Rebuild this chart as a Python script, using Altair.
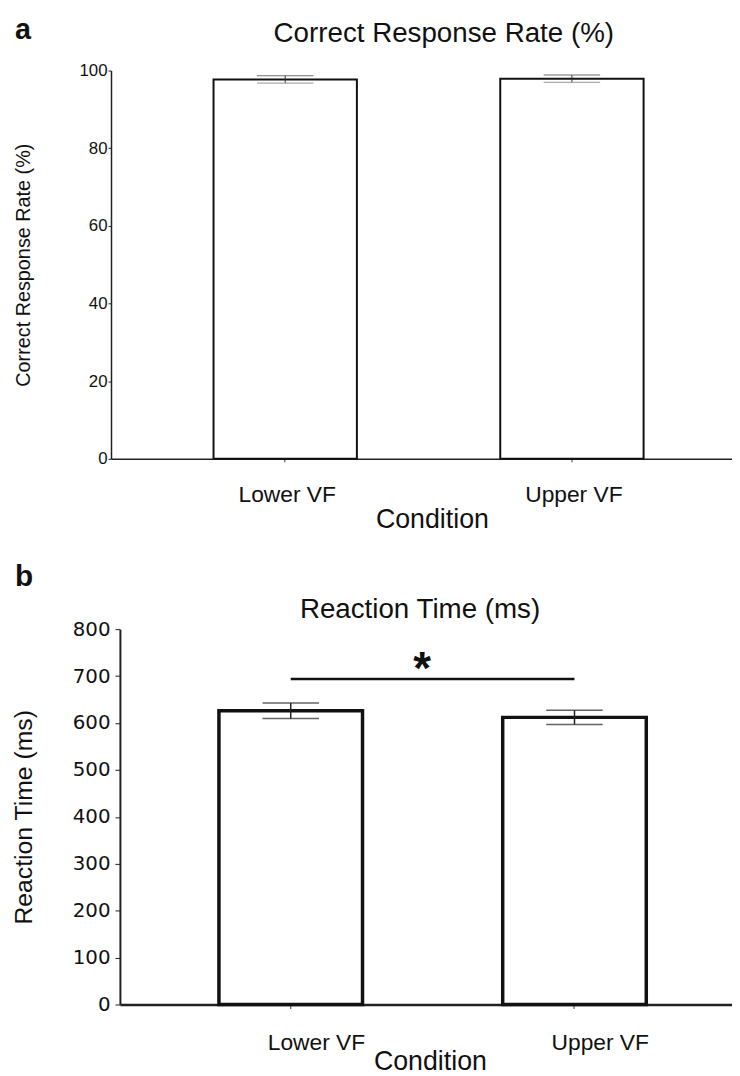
import altair as alt
import pandas as pd

# ---- data ----
conditions = ["Lower VF", "Upper VF"]
acc_mean = [97.7, 97.9]
acc_err = [0.95, 0.95]
rt_mean = [626, 612]
rt_err = [16.5, 15]
sig_pair = ["Lower VF", "Upper VF"]
sig_level = 694
sig_text = "*"

acc_ticks = [0, 20, 40, 60, 80, 100]
rt_ticks = [0, 100, 200, 300, 400, 500, 600, 700, 800]

df_a = pd.DataFrame({
    "Condition": conditions,
    "mean": acc_mean,
    "lo": [m - e for m, e in zip(acc_mean, acc_err)],
    "hi": [m + e for m, e in zip(acc_mean, acc_err)],
})
df_b = pd.DataFrame({
    "Condition": conditions,
    "mean": rt_mean,
    "lo": [m - e for m, e in zip(rt_mean, rt_err)],
    "hi": [m + e for m, e in zip(rt_mean, rt_err)],
})
df_sig = pd.DataFrame({"x1": [sig_pair[0]], "x2": [sig_pair[1]], "y": [sig_level], "t": [sig_text]})

SANS = "Liberation Sans"
W = 627
HA, HB = 392, 379
B_SHIFT = 9  # panel b's y axis sits a little to the right


def label_layer(text, x, y, size, weight="normal", font=SANS):
    return alt.Chart(pd.DataFrame({"t": [text]})).mark_text(
        font=font, fontSize=size, fontWeight=weight, align="left" if weight == "bold" else "center",
        baseline="alphabetic", color="#111"
    ).encode(text="t:N", x=alt.value(x), y=alt.value(y))


# ---------- panel a ----------
xa_scale = alt.Scale(paddingInner=0.5, paddingOuter=0.333, align=0.537)
xa_axis = alt.Axis(
    title="Condition", titleFont=SANS, titleFontSize=27, titleFontWeight="normal",
    titleColor="#111", titleBaseline="alphabetic", titleY=69, titleX=324,
    labelFont=SANS, labelFontSize=23, labelColor="#111", labelAngle=0,
    labelBaseline="alphabetic", labelPadding=40, labelOffset=2, tickSize=3, tickColor="#333",
    domainColor="#222", domainWidth=1.5, grid=False,
)
ya_scale = alt.Scale(domain=[0, 100], nice=False)
ya_axis = alt.Axis(
    title="Correct Response Rate (%)", titleFont=SANS, titleFontSize=20,
    titleFontWeight="normal", titleColor="#111", titleX=-88, titleY=HA / 2,
    titleBaseline="middle", titleAngle=270,
    values=acc_ticks, labelFont=SANS, labelFontSize=17, labelColor="#111",
    labelPadding=1, tickSize=3, tickColor="#222", domainColor="#222",
    domainWidth=1.5, grid=False,
)
XA = alt.X("Condition:N", scale=xa_scale, axis=xa_axis, sort=conditions)

base_a = alt.Chart(df_a)
bars_a = base_a.mark_bar(fill="white", stroke="#111", strokeWidth=2).encode(
    x=XA, y=alt.Y("mean:Q", scale=ya_scale, axis=ya_axis),
)
err_a = base_a.mark_rule(color="#333", strokeWidth=1).encode(
    x=XA, y=alt.Y("lo:Q", scale=ya_scale, axis=ya_axis), y2="hi:Q",
)
caphi_a = base_a.mark_tick(color="#333", size=57, thickness=1, orient="horizontal").encode(
    x=XA, y=alt.Y("hi:Q", scale=ya_scale, axis=ya_axis),
)
caplo_a = base_a.mark_tick(color="#888", size=57, thickness=1.2, orient="horizontal").encode(
    x=XA, y=alt.Y("lo:Q", scale=ya_scale, axis=ya_axis),
)
lab_a = label_layer("a", -97, -32, 29, "bold")
title_a = label_layer("Correct Response Rate (%)", 336, -29, 28)

panel_a = alt.layer(bars_a, err_a, caphi_a, caplo_a, lab_a, title_a).properties(
    width=W, height=HA,
)

# ---------- panel b ----------
xb_scale = alt.Scale(range=[B_SHIFT, W], paddingInner=0.494, paddingOuter=0.3255, align=0.536)
xb_axis = alt.Axis(
    title="Condition", titleFont=SANS, titleFontSize=27, titleFontWeight="normal",
    titleColor="#111", titleBaseline="alphabetic", titleY=66, titleX=322,
    labelFont=SANS, labelFontSize=23, labelColor="#111", labelAngle=0,
    labelBaseline="alphabetic", labelPadding=41, labelOffset=26, tickSize=4, tickColor="#333",
    domainColor="#222", domainWidth=2.5, grid=False,
)
yb_scale = alt.Scale(domain=[0, 800], nice=False)
yb_axis = alt.Axis(
    title="Reaction Time (ms)", titleFont=SANS, titleFontSize=25,
    titleFontWeight="normal", titleColor="#111", titleX=-88 - B_SHIFT, titleY=HB / 2,
    titleBaseline="middle", titleAngle=270, offset=-B_SHIFT,
    values=rt_ticks, labelFont="DejaVu Sans", labelFontSize=20, labelColor="#111",
    labelPadding=5, tickSize=5, tickColor="#222", domainColor="#222",
    domainWidth=2, grid=False,
)
XB = alt.X("Condition:N", scale=xb_scale, axis=xb_axis, sort=conditions)

base_b = alt.Chart(df_b)
bars_b = base_b.mark_bar(fill="white", stroke="#111", strokeWidth=3.5).encode(
    x=XB, y=alt.Y("mean:Q", scale=yb_scale, axis=yb_axis),
)
err_b = base_b.mark_rule(color="#222", strokeWidth=1.5).encode(
    x=XB, y=alt.Y("lo:Q", scale=yb_scale, axis=yb_axis), y2="hi:Q",
)
caphi_b = base_b.mark_tick(color="#222", size=57, thickness=1.5, orient="horizontal").encode(
    x=XB, y=alt.Y("hi:Q", scale=yb_scale, axis=yb_axis),
)
caplo_b = base_b.mark_tick(color="#222", size=57, thickness=1.5, orient="horizontal").encode(
    x=XB, y=alt.Y("lo:Q", scale=yb_scale, axis=yb_axis),
)
sig_line = alt.Chart(df_sig).mark_rule(color="#111", strokeWidth=2.5).encode(
    x=alt.X("x1:N", scale=xb_scale, axis=xb_axis, sort=conditions),
    x2="x2:N",
    y=alt.Y("y:Q", scale=yb_scale, axis=yb_axis),
)
sig_star = alt.Chart(df_sig).mark_text(
    font=SANS, fontSize=46, fontWeight="bold", baseline="alphabetic", align="center", dy=5, color="#111"
).encode(text="t:N", x=alt.value(314), y=alt.Y("y:Q", scale=yb_scale, axis=yb_axis))
lab_b = label_layer("b", -97, -44, 30, "bold")
title_b = label_layer("Reaction Time (ms)", 312, -11, 28)

panel_b = alt.layer(bars_b, err_b, caphi_b, caplo_b, sig_line, sig_star, lab_b, title_b).properties(
    width=W, height=HB,
)

chart = alt.ConcatChart(concat=[panel_a, panel_b], columns=1, spacing=30, align="none").properties(
    padding={"left": 4, "top": 3, "right": 0, "bottom": -4}
).configure(background="white", view=alt.ViewConfig(stroke=None))

chart.save("out.html", embed_options={"renderer": "svg", "actions": False})
